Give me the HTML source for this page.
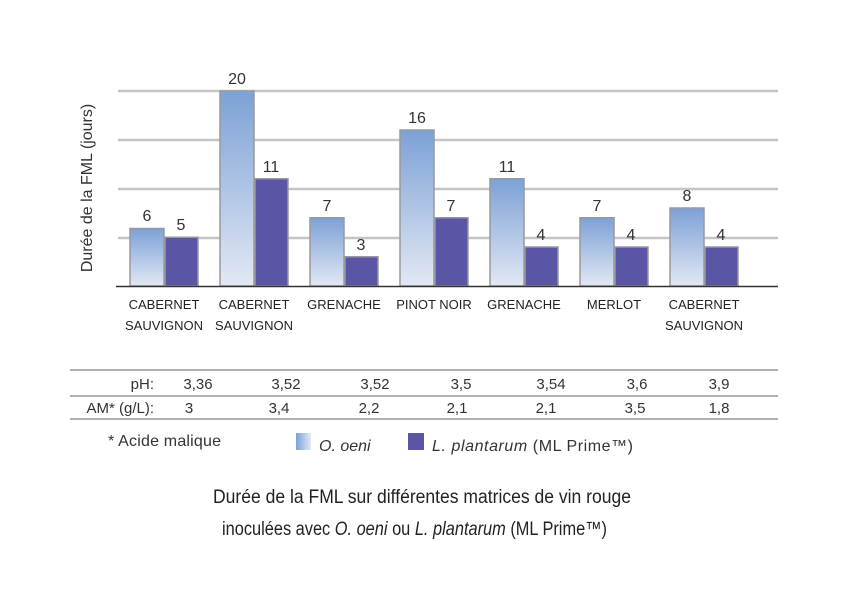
<!DOCTYPE html>
<html><head><meta charset="utf-8"><style>body{margin:0;background:#fff}svg{display:block}</style></head><body>
<svg width="850" height="600" viewBox="0 0 850 600" xmlns="http://www.w3.org/2000/svg" font-family="Liberation Sans, sans-serif" fill="#333">
<defs><linearGradient id="g" x1="0" y1="0" x2="0" y2="1"><stop offset="0" stop-color="#7ca1d6"/><stop offset="1" stop-color="#e2e8f4"/></linearGradient>
<linearGradient id="gl" x1="0" y1="0" x2="1" y2="0"><stop offset="0" stop-color="#7ca1d6"/><stop offset="1" stop-color="#e2e8f4"/></linearGradient></defs>
<g stroke="#c4c4c4" stroke-width="2.5">
<line x1="118" y1="91" x2="778" y2="91"/><line x1="118" y1="140" x2="778" y2="140"/><line x1="118" y1="189" x2="778" y2="189"/><line x1="118" y1="238" x2="778" y2="238"/></g>
<g stroke="#999" stroke-width="1.5">
<rect x="130" y="228.5" width="34" height="57.5" fill="url(#g)"/><rect x="165" y="237.25" width="33" height="48.75" fill="#5b55a6"/>
<rect x="220" y="91" width="34" height="195" fill="url(#g)"/><rect x="255" y="178.75" width="33" height="107.25" fill="#5b55a6"/>
<rect x="310" y="217.75" width="34" height="68.25" fill="url(#g)"/><rect x="345" y="256.75" width="33" height="29.25" fill="#5b55a6"/>
<rect x="400" y="130" width="34" height="156" fill="url(#g)"/><rect x="435" y="217.75" width="33" height="68.25" fill="#5b55a6"/>
<rect x="490" y="178.75" width="34" height="107.25" fill="url(#g)"/><rect x="525" y="247" width="33" height="39" fill="#5b55a6"/>
<rect x="580" y="217.75" width="34" height="68.25" fill="url(#g)"/><rect x="615" y="247" width="33" height="39" fill="#5b55a6"/>
<rect x="670" y="208" width="34" height="78" fill="url(#g)"/><rect x="705" y="247" width="33" height="39" fill="#5b55a6"/>
</g>
<line x1="116" y1="286.5" x2="778" y2="286.5" stroke="#333" stroke-width="1.5"/>
<g font-size="16" text-anchor="middle">
<text x="147" y="221">6</text><text x="181" y="230">5</text>
<text x="237" y="84">20</text><text x="271" y="172">11</text>
<text x="327" y="211">7</text><text x="361" y="250">3</text>
<text x="417" y="123">16</text><text x="451" y="211">7</text>
<text x="507" y="172">11</text><text x="541" y="240">4</text>
<text x="597" y="211">7</text><text x="631" y="240">4</text>
<text x="687" y="201">8</text><text x="721" y="240">4</text>
</g>
<g font-size="13" text-anchor="middle" fill="#222">
<text x="164" y="309">CABERNET</text><text x="164" y="330">SAUVIGNON</text>
<text x="254" y="309">CABERNET</text><text x="254" y="330">SAUVIGNON</text>
<text x="344" y="309">GRENACHE</text>
<text x="434" y="309">PINOT NOIR</text>
<text x="524" y="309">GRENACHE</text>
<text x="614" y="309">MERLOT</text>
<text x="704" y="309">CABERNET</text><text x="704" y="330">SAUVIGNON</text>
</g>
<text transform="translate(92,188) rotate(-90)" font-size="16" text-anchor="middle">Durée de la FML (jours)</text>
<g stroke="#999" stroke-width="1.5"><line x1="70" y1="370" x2="778" y2="370"/><line x1="70" y1="396" x2="778" y2="396"/><line x1="70" y1="419" x2="778" y2="419"/></g>
<g font-size="15" fill="#333">
<text x="154" y="389" text-anchor="end">pH:</text>
<text x="154" y="413" text-anchor="end">AM* (g/L):</text>
<g text-anchor="middle">
<text x="198" y="389">3,36</text><text x="286" y="389">3,52</text><text x="375" y="389">3,52</text><text x="461" y="389">3,5</text><text x="551" y="389">3,54</text><text x="637" y="389">3,6</text><text x="719" y="389">3,9</text>
<text x="189" y="413">3</text><text x="279" y="413">3,4</text><text x="369" y="413">2,2</text><text x="457" y="413">2,1</text><text x="546" y="413">2,1</text><text x="635" y="413">3,5</text><text x="719" y="413">1,8</text>
</g>
<g font-size="16">
<text x="108" y="446" textLength="113">* Acide malique</text>
<rect x="296" y="433" width="15" height="17" fill="url(#gl)"/>
<text x="319" y="451" font-style="italic">O. oeni</text>
<rect x="408" y="433" width="16" height="17" fill="#5b55a6"/>
<text x="432" y="451" textLength="201"><tspan font-style="italic">L. plantarum</tspan> (ML Prime™)</text>
</g>
</g>
<g font-size="19" fill="#222">
<text x="213" y="503" textLength="418" lengthAdjust="spacingAndGlyphs">Durée de la FML sur différentes matrices de vin rouge</text>
<text x="222" y="535" textLength="385" lengthAdjust="spacingAndGlyphs">inoculées avec <tspan font-style="italic">O. oeni</tspan> ou <tspan font-style="italic">L. plantarum</tspan> (ML Prime™)</text>
</g>
</svg>
</body></html>
